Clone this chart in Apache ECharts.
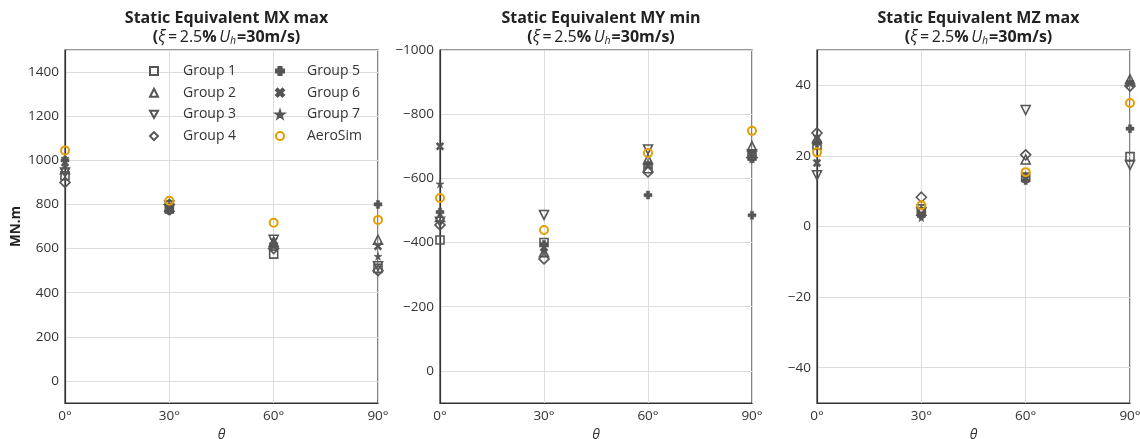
<!DOCTYPE html>
<html>
<head>
<meta charset="utf-8">
<script src="https://cdn.jsdelivr.net/npm/echarts@6/dist/echarts.min.js"></script>
<style>
  html, body { margin: 0; padding: 0; background: #fff; }
  #chart { width: 1140px; height: 439px; }
</style>
</head>
<body>
<div id="chart"></div>
<script>
// wind angles (deg)
var thetas = [0, 30, 60, 90];
var groupNames = ['Group 1', 'Group 2', 'Group 3', 'Group 4', 'Group 5', 'Group 6', 'Group 7', 'AeroSim'];

// MX max (MN.m)
var mxGroup1 = [930, 780, 575, 510];
var mxGroup2 = [960, 790, 630, 640];
var mxGroup3 = [945, 795, 640, 520];
var mxGroup4 = [900, 800, 600, 500];
var mxGroup5 = [1000, 770, 620, 800];
var mxGroup6 = [990, 775, 610, 610];
var mxGroup7 = [1010, 785, 640, 565];
var mxAeroSim = [1045, 817, 717, 730];

// MY min (MN.m)
var myGroup1 = [-408, -400, -630, -670];
var myGroup2 = [-480, -370, -660, -700];
var myGroup3 = [-465, -486, -690, -675];
var myGroup4 = [-455, -349, -620, -665];
var myGroup5 = [-495, -395, -548, -485];
var myGroup6 = [-700, -385, -640, -672];
var myGroup7 = [-583, -375, -650, -660];
var myAeroSim = [-539, -439, -679, -748];

// MZ max (MN.m)
var mzGroup1 = [23, 5, 14, 19.8];
var mzGroup2 = [25, 4.5, 19, 41.7];
var mzGroup3 = [14.5, 4, 33, 17.4];
var mzGroup4 = [26.5, 8.3, 20.3, 39.8];
var mzGroup5 = [23.5, 3, 13, 27.7];
var mzGroup6 = [18, 3.5, 13.5, 40.5];
var mzGroup7 = [25.5, 2.5, 14.5, 41];
var mzAeroSim = [21, 6, 15.4, 35];

var panelTitles = ['Static Equivalent MX max', 'Static Equivalent MY min', 'Static Equivalent MZ max'];

var panels = [
  [mxGroup1, mxGroup2, mxGroup3, mxGroup4, mxGroup5, mxGroup6, mxGroup7, mxAeroSim],
  [myGroup1, myGroup2, myGroup3, myGroup4, myGroup5, myGroup6, myGroup7, myAeroSim],
  [mzGroup1, mzGroup2, mzGroup3, mzGroup4, mzGroup5, mzGroup6, mzGroup7, mzAeroSim]
];

var FONT = 'Open Sans';
var DARK = '#555';
var ORANGE = '#e69f00';
var triDownPath = 'path://M0,0H10L5,9Z';
var plusPath = 'path://M3,0H7V3H10V7H7V10H3V7H0V3H3Z';
var xPath = 'path://M2,0L5,3L8,0L10,2L7,5L10,8L8,10L5,7L2,10L0,8L3,5L0,2Z';
var starPath = 'path://M50,0L61,35H98L68,57L79,91L50,70L21,91L32,57L2,35H39Z';

// marker style per group
var markers = [
  { symbol: 'rect', size: 8, hollow: true },
  { symbol: 'triangle', size: 9, hollow: true },
  { symbol: triDownPath, size: 9, hollow: true },
  { symbol: 'diamond', size: 10, hollow: true },
  { symbol: plusPath, size: 8 },
  { symbol: xPath, size: 8 },
  { symbol: starPath, size: 8 },
  { symbol: 'circle', size: 8, hollow: true, color: ORANGE }
];

var gridLeft = [65, 440, 817];
var gridWidth = [313, 312, 313];

var minus = function (v) { return String(v).replace('-', '\u2212'); };

var grids = [], xAxes = [], yAxes = [], titles = [], series = [];

var yConf = [
  { min: -100, max: 1500, splitNumber: 8, inverse: false },
  { min: -1000, max: 100, interval: 200, inverse: true },
  { min: -50, max: 50, splitNumber: 5, inverse: false }
];

for (var p = 0; p < 3; p++) {
  grids.push({
    left: gridLeft[p], top: 50, width: gridWidth[p], height: 353,
    outerBoundsMode: 'none', containLabel: false,
    show: true, borderColor: '#333', borderWidth: 1.2, backgroundColor: '#fff'
  });
  titles.push({
    text: panelTitles[p] + '\n{b|(}{i|\u03be}{r|\u2009=\u20092.5}{b|%\u2009}{i|U\u2095}{b|=30m/s)}',
    left: gridLeft[p] + gridWidth[p] / 2,
    textAlign: 'center',
    top: 4,
    textStyle: {
      fontFamily: FONT, fontSize: 16, fontWeight: 'bold', color: '#222', lineHeight: 19,
      rich: {
        b: { fontFamily: FONT, fontSize: 16, fontWeight: 'bold', color: '#222' },
        r: { fontFamily: FONT, fontSize: 16, fontWeight: 'normal', color: '#222' },
        i: { fontFamily: FONT, fontSize: 16, fontStyle: 'italic', fontWeight: 'normal', color: '#222' }
      }
    }
  });
  xAxes.push({
    type: 'value', gridIndex: p, min: 0, max: 90, interval: 30,
    name: '\u03b8', nameLocation: 'middle', nameGap: 25,
    nameTextStyle: { fontFamily: FONT, fontStyle: 'italic', fontSize: 14, color: '#333' },
    axisLine: { show: true, onZero: false, lineStyle: { color: '#333', width: 1.2 } },
    axisTick: { show: false },
    axisLabel: { formatter: '{value}\u00b0', fontFamily: FONT, fontSize: 13.5, color: '#333', margin: 6 },
    splitLine: { show: true, lineStyle: { color: '#ddd', width: 1 } }
  });
  var yc = yConf[p];
  var ya = {
    type: 'value', gridIndex: p, min: yc.min, max: yc.max, inverse: yc.inverse,
    axisLine: { show: true, onZero: false, lineStyle: { color: '#333', width: 1.2 } },
    axisTick: { show: false },
    axisLabel: {
      fontFamily: FONT, fontSize: 13.5, color: '#333', margin: 6,
      showMinLabel: p === 1, showMaxLabel: false,
      formatter: minus
    },
    splitLine: { show: true, lineStyle: { color: '#ddd', width: 1 } }
  };
  if (yc.interval) ya.interval = yc.interval; else ya.splitNumber = yc.splitNumber;
  if (p === 0) {
    ya.name = 'MN.m';
    ya.nameLocation = 'middle';
    ya.nameGap = 42;
    ya.nameTextStyle = { fontFamily: FONT, fontWeight: 'bold', fontSize: 13.5, color: '#222' };
  }
  yAxes.push(ya);

  for (var g = 0; g < groupNames.length; g++) {
    var m = markers[g];
    var c = m.color || DARK;
    series.push({
      type: 'scatter',
      name: groupNames[g],
      xAxisIndex: p, yAxisIndex: p,
      symbol: m.symbol,
      symbolSize: m.size,
      clip: false,
      z: g === 7 ? 3 : 2,
      itemStyle: m.hollow
        ? { color: 'rgba(255,255,255,0)', borderColor: c, borderWidth: g === 7 ? 2 : 1.6, opacity: 1 }
        : { color: c, borderColor: c, borderWidth: 0.5, opacity: 1 },
      emphasis: { disabled: true },
      data: thetas.map(function (t, i) { return [t, panels[p][g][i]]; })
    });
  }
}

var legendBase = {
  orient: 'vertical', top: 58, itemWidth: 8, itemHeight: 8, itemGap: 5.7,
  selectedMode: false,
  textStyle: { fontFamily: FONT, fontSize: 14, color: '#333', lineHeight: 16 }
};

var chart = echarts.init(document.getElementById('chart'), null, { renderer: 'canvas' });
chart.setOption({
  backgroundColor: '#fff',
  animation: false,
  title: titles,
  legend: [
    Object.assign({}, legendBase, { left: 144, data: groupNames.slice(0, 4),
      textStyle: Object.assign({}, legendBase.textStyle, { padding: [0, 0, 0, 20] }) }),
    Object.assign({}, legendBase, { left: 270, data: groupNames.slice(4),
      textStyle: Object.assign({}, legendBase.textStyle, { padding: [0, 0, 0, 18] }) })
  ],
  grid: grids,
  xAxis: xAxes,
  yAxis: yAxes,
  series: series
});
</script>
</body>
</html>
